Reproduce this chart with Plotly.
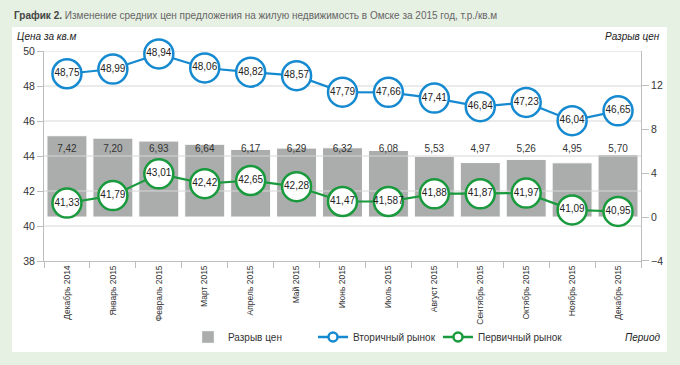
import plotly.graph_objects as go

# ---------------- data ----------------
months = ["Декабрь 2014", "Январь 2015", "Февраль 2015", "Март 2015", "Апрель 2015",
          "Май 2015", "Июнь 2015", "Июль 2015", "Август 2015", "Сентябрь 2015",
          "Октябрь 2015", "Ноябрь 2015", "Декабрь 2015"]

# price gap (right axis)
gap = [7.42, 7.20, 6.93, 6.64, 6.17, 6.29, 6.32, 6.08, 5.53, 4.97, 5.26, 4.95, 5.70]

secondary = [48.70, 48.97, 49.83, 49.03, 48.79, 48.59, 47.65, 47.64, 47.31, 46.82, 47.06, 46.02, 46.58]
secondary_labels = ["48,75", "48,99", "48,94", "48,06", "48,82", "48,57", "47,79",
                    "47,66", "47,41", "46,84", "47,23", "46,04", "46,65"]

# primary market
primary = [41.31, 41.74, 42.98, 42.42, 42.60, 42.25, 41.40, 41.40, 41.84, 41.84, 41.88, 40.92, 40.83]
primary_labels = ["41,33", "41,79", "43,01", "42,42", "42,65", "42,28", "41,47",
                  "41,587", "41,88", "41,87", "41,97", "41,09", "40,95"]

price_ticks = [38, 40, 42, 44, 46, 48, 50]
gap_ticks = [-4, 0, 4, 8, 12]

# ---------------- style ----------------
BLUE = "#168ad0"
GREEN = "#189a3d"
BAR = "#abadac"
GRID = "#d6d6d6"
AXIS = "#bdbdbd"
TXT = "#333333"
PAGE = "#e6f0e3"
FONT = "Liberation Sans, Arial, sans-serif"

xs = list(range(len(months)))
gap_text = [f"{v:.2f}".replace(".", ",") for v in gap]

fig = go.Figure()

# bars on right axis (main y)
fig.add_trace(go.Bar(
    x=xs, y=gap, yaxis="y", width=0.87,
    marker=dict(color=BAR, line=dict(color="white", width=1)),
    showlegend=False, hoverinfo="skip"))

# bar labels at a fixed level
LABEL_LEVEL = 6.2
fig.add_trace(go.Scatter(
    x=xs, y=[LABEL_LEVEL] * len(xs), yaxis="y", mode="text", text=gap_text,
    textfont=dict(family=FONT, size=10, color=TXT), showlegend=False, hoverinfo="skip"))

# gridlines (drawn over bars) on left axis
gx, gy = [], []
for t in price_ticks[1:]:
    gx += [-0.5, 12.5, None]
    gy += [t, t, None]
fig.add_trace(go.Scatter(x=gx, y=gy, yaxis="y2", mode="lines",
                         line=dict(color=GRID, width=1), showlegend=False, hoverinfo="skip"))

# secondary market
fig.add_trace(go.Scatter(
    x=xs, y=secondary, yaxis="y2", mode="lines+markers+text", text=secondary_labels,
    textposition="middle center", textfont=dict(family=FONT, size=10, color="#222"),
    line=dict(color=BLUE, width=2.2), cliponaxis=False,
    marker=dict(size=29, color="white", line=dict(color=BLUE, width=2.5)),
    showlegend=False, hoverinfo="skip"))

# primary market
fig.add_trace(go.Scatter(
    x=xs, y=primary, yaxis="y2", mode="lines+markers+text", text=primary_labels,
    textposition="middle center", textfont=dict(family=FONT, size=10, color="#222"),
    line=dict(color=GREEN, width=2.2), cliponaxis=False,
    marker=dict(size=29, color="white", line=dict(color=GREEN, width=2.5)),
    showlegend=False, hoverinfo="skip"))

# legend-only entries
fig.add_trace(go.Bar(x=[None], y=[None], name="Разрыв цен", marker=dict(color=BAR), yaxis="y"))
fig.add_trace(go.Scatter(x=[None], y=[None], name="Вторичный рынок", mode="lines+markers", yaxis="y2",
                         line=dict(color=BLUE, width=2.5),
                         marker=dict(size=9, color="white", line=dict(color=BLUE, width=2.5))))
fig.add_trace(go.Scatter(x=[None], y=[None], name="Первичный рынок", mode="lines+markers", yaxis="y2",
                         line=dict(color=GREEN, width=2.5),
                         marker=dict(size=9, color="white", line=dict(color=GREEN, width=2.5))))

W, H = 680, 365
L, R, T, B = 44, 39, 51, 104
pw, ph = W - L - R, H - T - B


def px(x):
    return (x - L) / pw


def py(y):
    return (H - B - y) / ph


fig.update_layout(
    width=W, height=H,
    margin=dict(l=L, r=R, t=T, b=B, pad=0),
    paper_bgcolor=PAGE,
    plot_bgcolor="rgba(0,0,0,0)",
    font=dict(family=FONT, size=10, color=TXT),
    barmode="overlay",
    xaxis=dict(
        range=[-0.5, 12.5], tickmode="array", tickvals=xs, ticktext=months,
        tickangle=-90, tickfont=dict(size=8.5, color=TXT), ticks="",
        showgrid=False, zeroline=False, showline=True, linecolor=AXIS, linewidth=1,
        minor=dict(tickmode="linear", tick0=-0.5, dtick=1, ticks="outside",
                   ticklen=6, tickcolor=AXIS, tickwidth=1, showgrid=False),
        anchor="y",
    ),
    yaxis=dict(
        side="right", range=[-4.01, 15.15], tickmode="array", tickvals=gap_ticks,
        ticks="outside", ticklen=7, tickcolor=AXIS, showline=True, linecolor=AXIS,
        showgrid=False, zeroline=False, tickfont=dict(size=10.5, color=TXT), anchor="x",
    ),
    yaxis2=dict(
        side="left", overlaying="y", range=[38, 50], tickmode="array", tickvals=price_ticks,
        ticks="outside", ticklen=6, tickcolor=AXIS, showline=True, linecolor=AXIS,
        showgrid=False, zeroline=False, tickfont=dict(size=10.5, color=TXT), anchor="x",
    ),
    legend=dict(
        orientation="h", x=px(188), xanchor="left", y=py(337), yanchor="middle",
        font=dict(size=10, color=TXT), bgcolor="rgba(0,0,0,0)", traceorder="normal",
        itemwidth=30, entrywidth=80, entrywidthmode="pixels",
    ),
    shapes=[dict(type="rect", xref="paper", yref="paper", layer="below",
                 x0=px(12), x1=px(667), y0=py(352), y1=py(27),
                 fillcolor="white", line=dict(width=0))],
    annotations=[
        dict(xref="paper", yref="paper", x=px(12), y=py(16), xanchor="left", yanchor="middle",
             showarrow=False,
             text="<b>График 2.</b> <span style='color:#666'>Изменение средних цен предложения на жилую недвижимость в Омске за 2015 год, т.р./кв.м</span>",
             font=dict(family=FONT, size=10, color="#444")),
        dict(xref="paper", yref="paper", x=px(15), y=py(36), xanchor="left", yanchor="middle",
             showarrow=False, text="<i>Цена за кв.м</i>", font=dict(size=10, color="#222")),
        dict(xref="paper", yref="paper", x=px(662), y=py(36), xanchor="right", yanchor="middle",
             showarrow=False, text="<i>Разрыв цен</i>", font=dict(size=10, color="#222")),
        dict(xref="paper", yref="paper", x=px(662), y=py(337), xanchor="right", yanchor="middle",
             showarrow=False, text="<i>Период</i>", font=dict(size=10, color="#222")),
    ],
)

fig.write_html(
    "out.html",
    config={"displayModeBar": False},
    post_script="document.body.style.margin='0';document.body.style.background='" + PAGE + "';",
)
